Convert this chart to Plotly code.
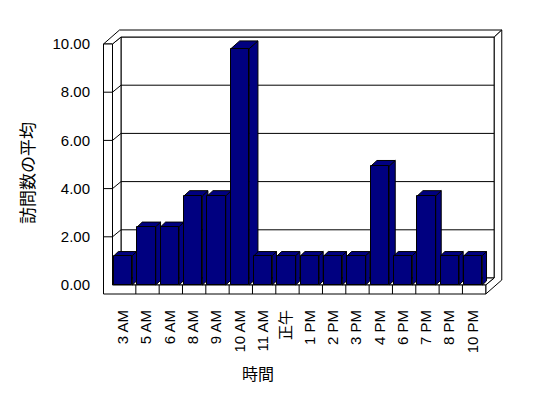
import plotly.graph_objects as go

# ---------------- data ----------------
categories = ["3 AM", "5 AM", "6 AM", "8 AM", "9 AM", "10 AM", "11 AM", "正午",
              "1 PM", "2 PM", "3 PM", "4 PM", "6 PM", "7 PM", "8 PM", "10 PM"]
values = [1.22, 2.42, 2.42, 3.7, 3.7, 9.8, 1.22, 1.22,
          1.22, 1.22, 1.22, 4.93, 1.22, 3.7, 1.22, 1.22]
y_ticks = [0, 2, 4, 6, 8, 10]
y_tick_labels = ["0.00", "2.00", "4.00", "6.00", "8.00", "10.00"]
x_title = "時間"
y_title = "訪問数の平均"

# ---------------- pixel geometry of the 3D frame ----------------
W, H = 548, 398
L, R, T, B = 100, 504, 27, 298          # plot area in px
X0 = 112.5        # px of the first category's left edge (front plane)
CW = 23.33        # px per category
Y0 = 285.0        # px of value 0 on the front plane
UH = 24.1         # px per value unit
FL = 103.5        # outer left edge of left wall
FB = 294.0        # bottom of floor slab
DX1, DY1 = 8.5, -7.0     # front -> inner back plane
DX2, DY2 = 16.0, -14.0   # front -> outer back plane
n = len(categories)
FR = X0 + n * CW
YT = Y0 - max(y_ticks) * UH

NAVY = "#000080"


def xd(px):
    return (px - X0) / CW


def yd(py):
    return (Y0 - py) / UH


def path(pts, close=True):
    s = "M " + " L ".join(f"{xd(x):.5f},{yd(y):.5f}" for x, y in pts)
    return s + (" Z" if close else "")


shapes = []


def poly(pts, fill="white", close=True, width=1):
    shapes.append(dict(type="path", xref="x", yref="y", layer="below",
                       path=path(pts, close),
                       fillcolor=fill if close else None,
                       line=dict(color="black", width=width)))


# back wall inner face
poly([(X0 + DX1, Y0 + DY1), (FR + DX1, Y0 + DY1), (FR + DX1, YT + DY1), (X0 + DX1, YT + DY1)])
# left wall inner face
poly([(X0, Y0), (X0, YT), (X0 + DX1, YT + DY1), (X0 + DX1, Y0 + DY1)])
# floor top
poly([(X0, Y0), (FR, Y0), (FR + DX1, Y0 + DY1), (X0 + DX1, Y0 + DY1)])
# gridlines
for v in y_ticks[1:-1]:
    yf = Y0 - v * UH
    poly([(FL, yf), (X0, yf), (X0 + DX1, yf + DY1), (FR + DX1, yf + DY1)], close=False)
# top rim
poly([(FL, YT), (X0, YT), (X0 + DX1, YT + DY1), (FR + DX1, YT + DY1),
      (FR + DX2, YT + DY2), (FL + DX2, YT + DY2)])
# right rim
poly([(FR, Y0), (FR + DX1, Y0 + DY1), (FR + DX1, YT + DY1), (FR + DX2, YT + DY2),
      (FR + DX2, FB + DY2), (FR, FB)])
# left wall front + floor front
poly([(FL, YT), (X0, YT), (X0, Y0), (FR, Y0), (FR, FB), (FL, FB)])
# gridline across the left wall front
for v in y_ticks[1:-1]:
    yf = Y0 - v * UH
    poly([(FL, yf), (X0, yf)], close=False)
# floor dividers
for i in range(1, n):
    poly([(X0 + i * CW, Y0), (X0 + i * CW, FB)], close=False)

# bar 3D faces (top and side), derived from the data values
BOFF, BW = 1.6, 18.3
for i, v in enumerate(values):
    bx0 = X0 + i * CW + BOFF
    bx1 = bx0 + BW
    yt = Y0 - v * UH
    bdx = 3.5 + 0.55 * v
    bdy = -(3.5 + 0.45 * v)
    poly([(bx1, Y0), (bx1, yt), (bx1 + bdx, yt + bdy), (bx1 + bdx, Y0 + bdy)], fill=NAVY)
    poly([(bx0, yt), (bx1, yt), (bx1 + bdx, yt + bdy), (bx0 + bdx, yt + bdy)], fill=NAVY)

fig = go.Figure()
fig.add_trace(go.Bar(
    x=list(range(n)), y=values, base=0,
    offset=BOFF / CW, width=BW / CW,
    marker=dict(color=NAVY, line=dict(color="black", width=1)),
    hoverinfo="skip", showlegend=False,
))

FONT = "Liberation Sans, Noto Sans CJK JP, sans-serif"

fig.update_layout(
    width=W, height=H,
    margin=dict(l=L, r=W - R, t=T, b=H - B, pad=0),
    paper_bgcolor="white", plot_bgcolor="rgba(0,0,0,0)",
    font=dict(family=FONT, color="black", size=14),
    shapes=shapes,
    bargap=0,
    xaxis=dict(range=[xd(L), xd(R)], showgrid=False, zeroline=False, showline=False,
               tickmode="array", tickvals=[i + 0.45 for i in range(n)], ticktext=categories,
               tickangle=-90, ticks="outside", ticklen=5, tickcolor="rgba(0,0,0,0)",
               tickfont=dict(size=15), fixedrange=True),
    yaxis=dict(range=[yd(B), yd(T)], showgrid=False, zeroline=False, showline=False,
               tickmode="array", tickvals=y_ticks, ticktext=y_tick_labels,
               ticks="outside", ticklen=6, tickcolor="rgba(0,0,0,0)",
               tickfont=dict(size=15), fixedrange=True),
    annotations=[
        dict(text=x_title, xref="paper", yref="paper",
             x=(258 - L) / (R - L), y=(B - 374) / (B - T),
             xanchor="center", yanchor="middle", showarrow=False,
             font=dict(size=16)),
        dict(text=y_title, xref="paper", yref="paper",
             x=(28 - L) / (R - L), y=(B - 173) / (B - T),
             xanchor="center", yanchor="middle", showarrow=False, textangle=-90,
             font=dict(size=17)),
    ],
)

fig.write_html("out.html")
